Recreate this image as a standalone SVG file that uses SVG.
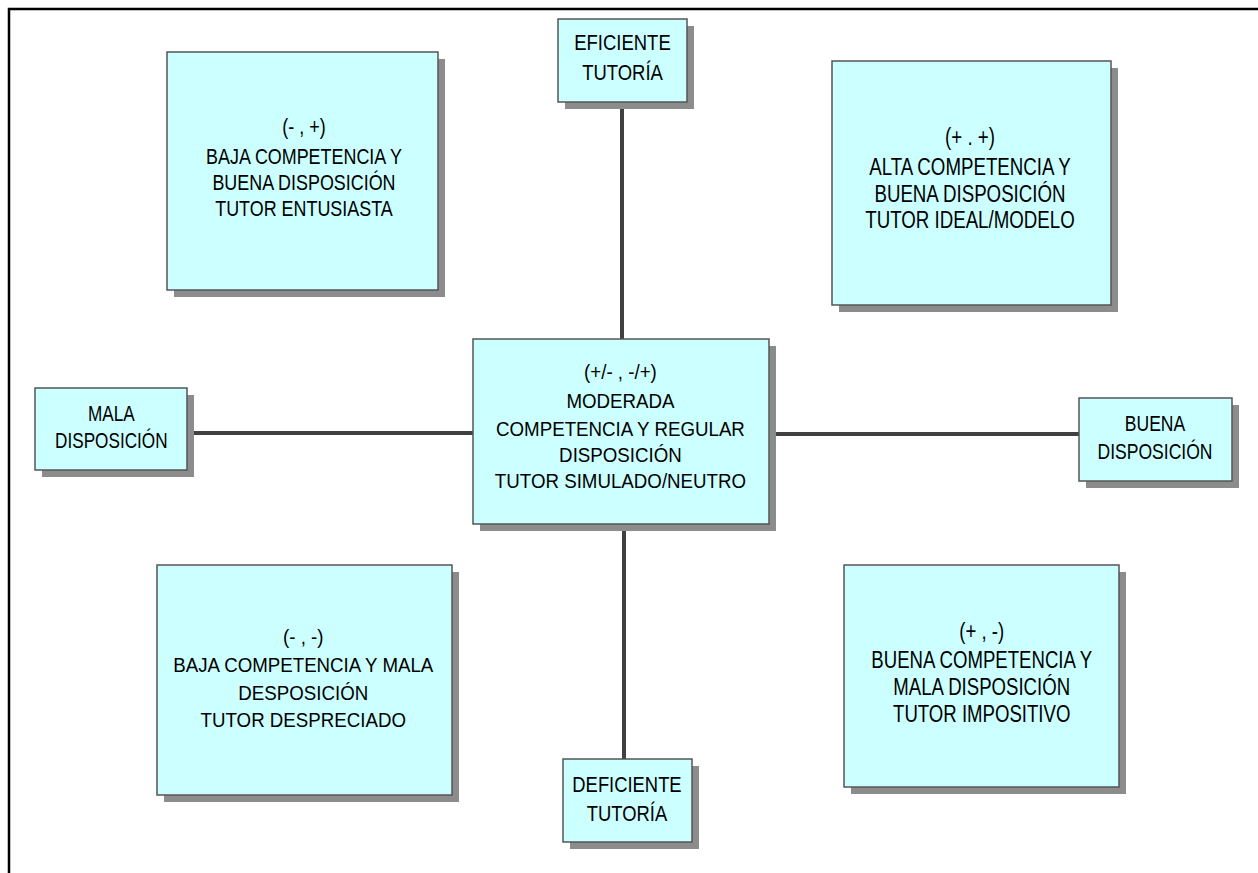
<svg xmlns="http://www.w3.org/2000/svg" width="1258" height="873" viewBox="0 0 1258 873">
<style>
.box{fill:#CCFFFF;stroke:#555555;stroke-width:1.5}
.sh{fill:#8C8C8C}
.t{font-family:"Liberation Sans",Arial,sans-serif;font-size:22px;fill:#000;text-anchor:middle}
.f21{font-size:21px}
.f23{font-size:23px}
.ln{stroke:#404040;stroke-width:4;fill:none}
</style>
<rect width="1258" height="873" fill="#FFFFFF"/>
<path d="M9,873 V9 H1258" fill="none" stroke="#000" stroke-width="2.5"/>
<g id="connectors">
<line class="ln" x1="622" y1="102" x2="622" y2="339"/>
<line class="ln" x1="624" y1="524" x2="624" y2="759"/>
<line class="ln" x1="187" y1="433" x2="473" y2="433"/>
<line class="ln" x1="769" y1="434" x2="1079" y2="434"/>
</g>
<g id="eficiente">
<rect class="sh" x="565" y="26" width="129" height="83"/>
<rect class="box" x="558" y="19" width="129" height="83"/>
<g transform="scale(0.84,1)">
<text class="t" x="741.07" y="50">EFICIENTE</text>
<text class="t" x="741.07" y="80">TUTORÍA</text>
</g>
</g>
<g id="baja-buena">
<rect class="sh" x="174" y="59" width="271" height="238"/>
<rect class="box" x="167" y="52" width="271" height="238"/>
<g transform="scale(0.815,1)">
<text class="t" x="373" y="134">(- , +)</text>
<text class="t" x="373" y="164">BAJA COMPETENCIA Y</text>
<text class="t" x="373" y="190">BUENA DISPOSICIÓN</text>
<text class="t" x="373" y="216">TUTOR ENTUSIASTA</text>
</g>
</g>
<g id="alta-buena">
<rect class="sh" x="839" y="68" width="279" height="244"/>
<rect class="box" x="832" y="61" width="279" height="244"/>
<g transform="scale(0.813,1)">
<text class="t f23" x="1193.1" y="145">(+ . +)</text>
<text class="t f23" x="1193.1" y="175">ALTA COMPETENCIA Y</text>
<text class="t f23" x="1193.1" y="202">BUENA DISPOSICIÓN</text>
<text class="t f23" x="1193.1" y="228">TUTOR IDEAL/MODELO</text>
</g>
</g>
<g id="mala-disposicion">
<rect class="sh" x="42" y="395" width="152" height="82"/>
<rect class="box" x="35" y="388" width="152" height="82"/>
<g transform="scale(0.78,1)">
<text class="t" x="142.7" y="421">MALA</text>
<text class="t" x="142.7" y="448">DISPOSICIÓN</text>
</g>
</g>
<g id="moderada">
<rect class="sh" x="480" y="346" width="296" height="185"/>
<rect class="box" x="473" y="339" width="296" height="185"/>
<g transform="scale(0.892,1)">
<text class="t f21" x="695.6" y="379">(+/- , -/+)</text>
<text class="t f21" x="695.6" y="408">MODERADA</text>
<text class="t f21" x="695.6" y="436">COMPETENCIA Y REGULAR</text>
<text class="t f21" x="695.6" y="462">DISPOSICIÓN</text>
<text class="t f21" x="695.6" y="488">TUTOR SIMULADO/NEUTRO</text>
</g>
</g>
<g id="buena-disposicion">
<rect class="sh" x="1086" y="405" width="153" height="83"/>
<rect class="box" x="1079" y="398" width="153" height="83"/>
<g transform="scale(0.798,1)">
<text class="t" x="1447.4" y="431">BUENA</text>
<text class="t" x="1447.4" y="459">DISPOSICIÓN</text>
</g>
</g>
<g id="baja-mala">
<rect class="sh" x="164" y="572" width="295" height="230"/>
<rect class="box" x="157" y="565" width="295" height="230"/>
<g transform="scale(0.891,1)">
<text class="t f21" x="340.4" y="644">(- , -)</text>
<text class="t f21" x="340.4" y="672">BAJA COMPETENCIA Y MALA</text>
<text class="t f21" x="340.4" y="700">DESPOSICIÓN</text>
<text class="t f21" x="340.4" y="727">TUTOR DESPRECIADO</text>
</g>
</g>
<g id="buena-mala">
<rect class="sh" x="851" y="572" width="275" height="222"/>
<rect class="box" x="844" y="565" width="275" height="222"/>
<g transform="scale(0.809,1)">
<text class="t f23" x="1213.5" y="639">(+ , -)</text>
<text class="t f23" x="1213.5" y="668">BUENA COMPETENCIA Y</text>
<text class="t f23" x="1213.5" y="695">MALA DISPOSICIÓN</text>
<text class="t f23" x="1213.5" y="722">TUTOR IMPOSITIVO</text>
</g>
</g>
<g id="deficiente">
<rect class="sh" x="570" y="766" width="129" height="83"/>
<rect class="box" x="563" y="759" width="129" height="83"/>
<g transform="scale(0.836,1)">
<text class="t" x="750" y="792">DEFICIENTE</text>
<text class="t" x="750" y="821">TUTORÍA</text>
</g>
</g>
</svg>
